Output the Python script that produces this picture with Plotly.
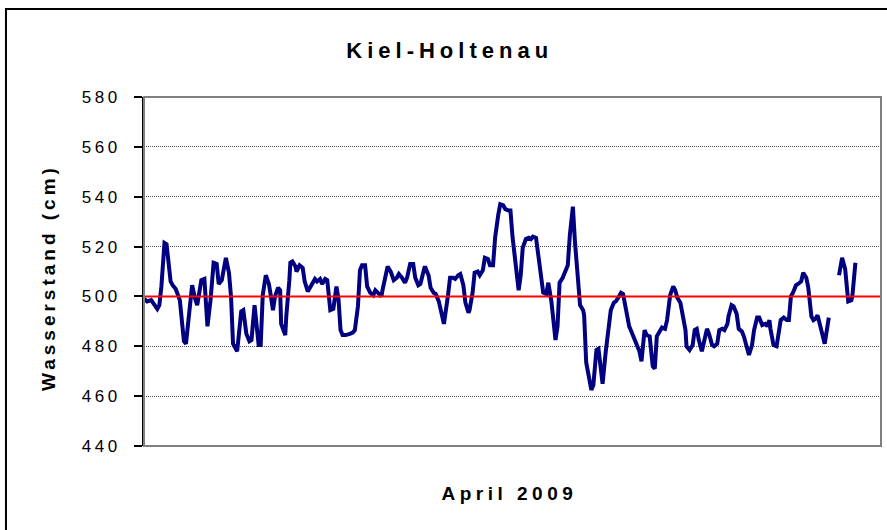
import plotly.graph_objects as go

# ---- data (hours since 2009-04-01 00:00, water level in cm) ----
hours = [0, 3, 7, 10, 13, 15, 17, 20, 22, 24, 26, 28, 31, 35, 37, 39, 41, 44, 47, 50,
         52, 56, 59, 62, 65, 68, 71, 73, 76, 80, 83, 85, 87, 91, 95, 97, 100, 103, 105, 108,
         110, 112, 114, 116, 119, 122,
         124, 126, 128, 131, 133, 134, 138, 139, 142, 143, 145, 148, 149, 152, 155, 157, 160, 163,
         167, 169, 172, 174, 177, 179, 182, 185, 188, 190, 192, 194, 197, 201, 204, 206, 209, 211,
         213, 216, 218, 221, 224, 226, 229, 232, 233, 236, 238, 241, 244,
         247, 249, 252, 255, 257, 260, 263, 265, 268, 270, 274, 275, 278, 280, 283, 285, 288, 290,
         293, 297, 299, 302, 304, 307, 309, 312, 314, 317, 318, 321, 323, 326, 328, 331, 333, 336,
         338, 341, 343, 346, 348, 351, 353, 356, 358, 360, 363, 366,
         368, 370, 373, 376, 378, 380, 383, 386, 388, 390, 393, 395, 398, 400, 402, 404, 406, 409,
         411, 414, 416, 419, 421, 424, 426, 429, 430, 432, 435, 437, 439, 442, 444, 446, 448, 451,
         454, 456, 459, 461, 464, 466, 468, 471, 474, 476, 478, 481, 484, 486,
         489, 491, 494, 497, 499, 501, 504, 506, 509, 511, 514, 517, 519, 521, 524, 527, 529, 530,
         533, 536, 538, 540, 542, 545, 547, 550, 552, 555, 557, 560, 562, 565, 567, 570, 571, 574,
         576, 579, 581, 584, 586, 589, 591, 594, 596, 599, 601, 604, 607,
         609, 611, 612, 615, 618, 620, 622, 625, 628, 630, 632, 634, 637, 639, 642, 644, 647, 649,
         652, 654, 656, 658, 661, 663, 665, 669, 674, 679, 682, 685, 688, 691, 692, 695]

water_level = [499, 498, 498.5, 497, 495, 496.5, 504, 521.5, 521, 513.5, 506, 504.5, 503, 498.5, 488, 482, 481, 492, 504.5, 499,
               496.5, 506.5, 507, 488, 498.5, 513.5, 513, 505, 506.5, 515.5, 509.5, 500, 481, 478, 494, 494.5, 485, 482, 482.5, 496.5,
               488, 480.5, 480.5, 500.5, 508.5, 505,
               500, 494.5, 500, 503.5, 502.5, 489, 484.5, 492, 506.5, 513.5, 514, 512, 510, 512.5, 511.5, 506, 502, 504.5,
               507, 506, 507, 505, 507, 506.5, 494.5, 495, 504, 499, 486.5, 484.5, 484.5, 485, 485.5, 486.5, 496, 510.5,
               512.5, 512.5, 504, 501.5, 500.5, 502.5, 501.5, 500, 502.5, 509.5, 512, 510, 506.5,
               507.5, 509, 507.5, 505.5, 507.5, 513, 513, 507.5, 504.5, 505, 511.5, 511.5, 508.5, 503.5, 501.5, 501, 498, 494.5,
               489, 500.5, 507.5, 507.5, 507, 508.5, 509, 504.5, 497.5, 493.5, 494.5, 501.5, 509.5, 510, 508.5, 510.5, 515.5, 515,
               512.5, 512.5, 523.5, 532.5, 537, 536.5, 535, 534.5, 534.5, 524, 513, 502.5,
               508.5, 519.5, 523, 523.5, 523, 524, 523.5, 515, 507, 501.5, 501, 505.5, 498, 490, 482.5, 488, 505.5, 507.5,
               509.5, 512.5, 524.5, 536, 522, 505.5, 496.5, 494.5, 492.5, 473.5, 465.5, 462.5, 464.5, 478.5, 479, 472.5, 465, 477.5,
               490, 494.5, 497.5, 498, 500, 501.5, 501, 494.5, 488, 486, 484, 482, 478, 474,
               486.5, 484.5, 484, 472, 471, 484, 486, 487.5, 487, 490.5, 500.5, 504, 502.5, 499.5, 497.5, 492, 486.5, 480,
               478.5, 480.5, 486.5, 487, 482.5, 478, 482, 487, 485, 480.5, 480, 481, 486.5, 487, 486.5, 489, 492, 496.5,
               496, 493, 487, 486, 484, 478.5, 476.5, 480.5, 486.5, 491.5, 491.5, 488.5, 489,
               488, 490.5, 487, 480.5, 480, 486.5, 490.5, 491.5, 490.5, 490.5, 500, 501.5, 504.5, 505, 506, 509.5, 507.5, 503.5,
               492, 490.5, 491, 492.5, 488, 483.5, 481, 491.5, None, 508.5, 515.5, 511, 498, 498.5, 500, 513.5]

mean_level = 500
y_ticks = [440, 460, 480, 500, 520, 540, 560, 580]
month_hours = 720

FONT = "Arial, Liberation Sans, sans-serif"

fig = go.Figure()
fig.add_trace(go.Scatter(
    x=hours, y=water_level, mode="lines",
    line=dict(color="#000080", width=4),
    connectgaps=False, showlegend=False, hoverinfo="skip"))

fig.add_hline(y=mean_level, line=dict(color="#FF0000", width=2), layer="above")

# plot-area border (grey) and outer chart frame (black)
fig.add_shape(type="rect", xref="paper", yref="paper", x0=0, x1=1, y0=0, y1=1,
              line=dict(color="#808080", width=2), layer="above")
fig.add_shape(type="rect", xref="paper", yref="paper", x0=-0.1873, x1=1.03, y0=-0.28, y1=1.2521,
              line=dict(color="#000000", width=2), layer="above")

fig.update_layout(
    width=887, height=530, autosize=False,
    margin=dict(l=144, r=6, t=97, b=84),
    paper_bgcolor="white", plot_bgcolor="white",
    font=dict(family=FONT, color="black"),
    title=dict(text="Kiel-Holtenau", x=0.507, xref="container", xanchor="center",
               y=1 - 50 / 530, yref="container", yanchor="middle",
               font=dict(size=22, weight="bold", family=FONT, color="black")),
    xaxis=dict(range=[0, month_hours], showticklabels=False, showgrid=False, zeroline=False,
               showline=False, ticks=""),
    yaxis=dict(range=[440, 580], tickvals=y_ticks, ticks="outside", ticklen=8, tickwidth=2,
               tickcolor="black", showline=True, linecolor="black", linewidth=2,
               showgrid=True, gridcolor="#555555", gridwidth=1, griddash="1px,1px",
               zeroline=False, ticklabelstandoff=10,
               tickfont=dict(size=17, family=FONT, color="black")),
    annotations=[
        dict(text="Wasserstand (cm)", xref="paper", yref="paper", x=-0.1303, y=0.484,
             textangle=-90, showarrow=False, xanchor="center", yanchor="middle",
             font=dict(size=19, weight="bold", family=FONT, color="black")),
        dict(text="April 2009", xref="paper", yref="paper", x=0.4966, y=-0.1347,
             showarrow=False, xanchor="center", yanchor="middle",
             font=dict(size=19, weight="bold", family=FONT, color="black")),
    ],
)

post = """
document.body.style.margin = '0';
document.body.style.padding = '0';
document.body.style.overflow = 'hidden';
var gd = document.getElementById('{plot_id}');
function ls(sel, v){ gd.querySelectorAll(sel).forEach(function(e){ e.style.letterSpacing = v; }); }
ls('.gtitle', '5px');
ls('.ytick text', '3.5px');
ls('.annotation[data-index="0"] text', '4px');
ls('.annotation[data-index="1"] text', '4.5px');
"""

fig.write_html("out.html", post_script=post, config={"displayModeBar": False, "staticPlot": True})
